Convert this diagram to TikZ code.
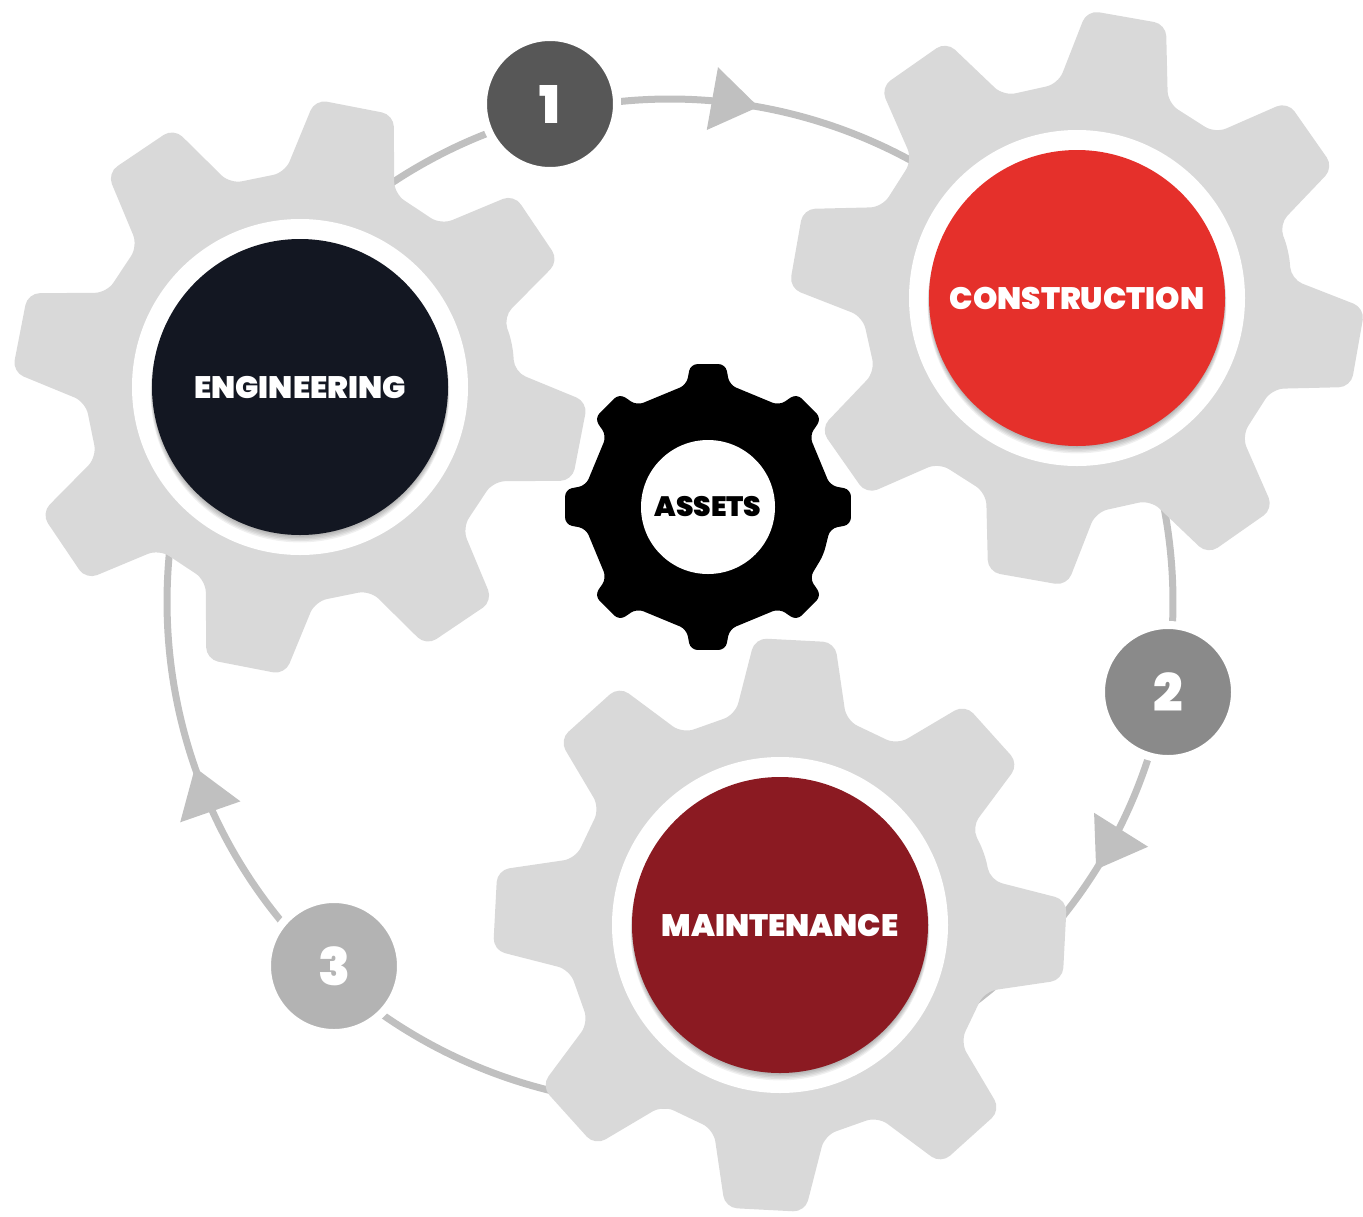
\documentclass[tikz,border=0pt]{standalone}
\usepackage{fontspec}
\setmainfont{Poppins}[BoldFont={Poppins Black}]
\usetikzlibrary{arrows.meta}
\usetikzlibrary{calc}
\usetikzlibrary{decorations.markings}
\usepackage{xcolor}

\definecolor{cogGrey}{HTML}{D9D9D9}
\definecolor{engDark}{HTML}{131722}
\definecolor{conRed}{HTML}{E5302B}
\definecolor{mntRed}{HTML}{8B1A22}
\definecolor{stepA}{HTML}{575757}
\definecolor{stepB}{HTML}{8A8A8A}
\definecolor{stepC}{HTML}{B3B3B3}
\definecolor{loopGrey}{HTML}{C0C0C0}

\begin{document}
\begin{tikzpicture}[x=1pt,y=1pt,
    loopline/.style={draw=loopGrey, line width=7pt},
    tipat/.style={postaction={decorate}, decoration={markings,
        mark=at position #1 with {\arrow{Triangle[length=47pt,width=62pt]}}}},
    badge/.style={circle, minimum size=134pt, inner sep=0pt, draw=white,
        line width=8pt, text=white, font=\fontsize{52}{52}\selectfont\bfseries},
    hubtext/.style={circle, minimum size=296pt, inner sep=0pt, text=white,
        font=\fontsize{31}{31}\selectfont\bfseries}]
      \useasboundingbox (0,0) rectangle (1363,-1216);

      % Centres
      \coordinate (ring) at (670,-602);
      \coordinate (eng) at (300,-387);
      \coordinate (con) at (1077,-298);
      \coordinate (mnt) at (780,-925);
      \coordinate (hub) at (708,-507);

      % Cycle
      \coordinate (p1) at ($(ring)+(103.5:503)$);
      \coordinate (p2) at ($(ring)+(-10.2:503)$);
      \coordinate (p3) at ($(ring)+(227.3:503)$);
      \draw[loopline, tipat=0.208] (p1) arc[start angle=103.5, end angle=-10.2, radius=503];
      \draw[loopline, tipat=0.179] (p2) arc[start angle=-10.2, end angle=-132.7, radius=503];
      \draw[loopline, tipat=0.227] (p3) arc[start angle=227.3, end angle=103.5, radius=503];

      % Gears
      \foreach \g/\ph in {eng/34,con/35,mnt/42}
      {
        \fill[cogGrey, rounded corners=12pt] ($(\g)+(\ph-22.5:217)$)
          \foreach \k in {0,...,7}
          {
            -- ($(\g)+(\ph+45*\k-15:215)$) -- ($(\g)+(\ph+45*\k-8:288)$)
            -- ($(\g)+(\ph+45*\k+8:288)$) -- ($(\g)+(\ph+45*\k+15:215)$)
          } -- cycle;
        \fill[white] (\g) circle[radius=168];
        \foreach \s in {1,...,6}
          \fill[black, opacity=0.06] ($(\g)+(0,-\s)$) circle[radius=147+0.4*\s];
      }

      % Hubs
      \node[hubtext, fill=engDark] (engineering) at (eng) {ENGINEERING};
      \node[hubtext, fill=conRed] (construction) at (con) {CONSTRUCTION};
      \node[hubtext, fill=mntRed] (maintenance) at (mnt) {MAINTENANCE};

      % Steps
      \node[badge, fill=stepA] (one) at (550,-104) {1};
      \node[badge, fill=stepB] (two) at (1168,-692) {2};
      \node[badge, fill=stepC] (three) at (334,-966) {3};

      % Assets gear
      \fill[black, rounded corners=7pt] ($(hub)+(-22.5:125)$)
        \foreach \k in {0,...,7}
        {
          -- ($(hub)+(45*\k-10:124)$) -- ($(hub)+(45*\k-7:144)$)
          -- ($(hub)+(45*\k+7:144)$) -- ($(hub)+(45*\k+10:124)$)
        } -- cycle;
      \node[circle, fill=white, minimum size=134pt, inner sep=0pt,
        font=\fontsize{28}{28}\selectfont\bfseries] (assets) at (hub) {ASSETS};
  \end{tikzpicture}
\end{document}
